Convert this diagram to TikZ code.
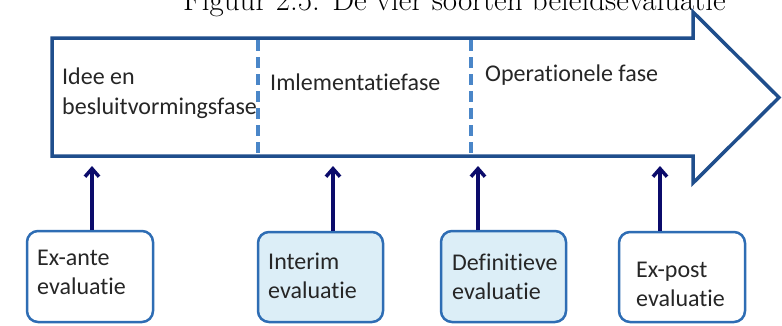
\documentclass[tikz,border=0pt]{standalone}
\usepackage{fontspec}
\newfontfamily\carlitofont[Ligatures={NoCommon}]{Carlito}
\usetikzlibrary{arrows.meta}
\definecolor{arrowblue}{HTML}{1F4E8C}
\definecolor{dashblue}{HTML}{4A86C8}
\definecolor{navy}{HTML}{0B0B6B}
\definecolor{boxline}{HTML}{2E6DB4}
\definecolor{boxfill}{HTML}{DCEEF7}
\tikzset{
  phase/.style={anchor=west, align=left, font=\carlitofont\fontsize{24}{30}\selectfont, text=black!85, inner sep=0pt},
  evalbox/.style={draw=boxline, line width=2.5pt, rounded corners=11pt, fill=white},
  evallabel/.style={anchor=west, align=left, font=\carlitofont\fontsize{24}{29}\selectfont, text=black!85, inner sep=0pt},
  uparrow/.style={draw=navy, line width=3.5pt, -{Straight Barb[length=8pt,width=14pt,line width=3.5pt]}},
  sep/.style={draw=dashblue, line width=3.2pt, dash pattern=on 11pt off 6pt}
}
\begin{document}
\begin{tikzpicture}[x=1pt,y=-1pt]
\clip (0,0) rectangle (782,325);
\fill[white] (0,0) rectangle (782,325);
% caption (cut off at top)
\node[anchor=base west, inner sep=0pt, font=\fontsize{31}{33}\selectfont] (cap) at (183,10) {Figuur 2.5: De vier soorten beleidsevaluatie};
% big arrow
\draw[arrowblue, line width=3.5pt, line join=miter, fill=white] (52,38) -- (693,38) -- (693,12) -- (779,97.5) -- (693,183) -- (693,156) -- (52,156) -- cycle;
\coordinate (s1t) at (258,40); \coordinate (s1b) at (258,154);
\coordinate (s2t) at (471,40); \coordinate (s2b) at (471,154);
\draw[sep] (s1t) -- (s1b);
\draw[sep] (s2t) -- (s2b);
\node[phase] (p1) at (62,93) {Idee en\\besluitvormingsfase};
\node[phase] (p2) at (270,82) {Imlementatiefase};
\node[phase] (p3) at (485,75) {Operationele fase};
% boxes
\draw[evalbox] (27,231) rectangle (153,322);
\node[evallabel] (b1) at (37,272.5) {Ex-ante\\evaluatie};
\draw[evalbox, fill=boxfill] (258,232) rectangle (383,322);
\node[evallabel] (b2) at (268,276) {Interim\\evaluatie};
\draw[evalbox, fill=boxfill] (441,231) rectangle (566,322);
\node[evallabel] (b3) at (452,276.5) {Definitieve\\evaluatie};
\draw[evalbox] (619,232) rectangle (745,322);
\node[evallabel] (b4) at (636,284) {Ex-post\\evaluatie};
% arrows
\coordinate (a1s) at (92,230); \coordinate (a1e) at (92,166);
\coordinate (a2s) at (333,231); \coordinate (a2e) at (333,166);
\coordinate (a3s) at (478,230); \coordinate (a3e) at (478,166);
\coordinate (a4s) at (660,231); \coordinate (a4e) at (660,166);
\draw[uparrow] (a1s) -- (a1e);
\draw[uparrow] (a2s) -- (a2e);
\draw[uparrow] (a3s) -- (a3e);
\draw[uparrow] (a4s) -- (a4e);
\end{tikzpicture}
\end{document}
